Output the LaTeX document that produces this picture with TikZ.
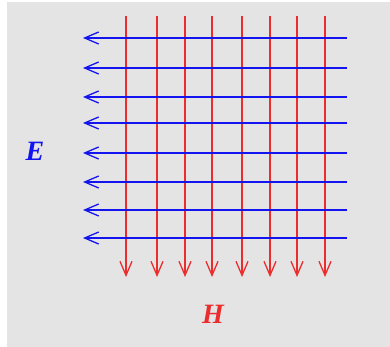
\documentclass[tikz,border=0pt]{standalone}
\usepackage{fontspec}
\setmainfont{Liberation Serif}
\usetikzlibrary{arrows.meta}
\definecolor{bg}{RGB}{228,228,228}
\definecolor{eblue}{RGB}{20,20,240}
\definecolor{hred}{RGB}{235,45,45}
\tikzset{
  efield/.style={draw=eblue, line width=1.6pt, -{Straight Barb[length=14pt, width=12pt, line width=1.3pt]}},
  hfield/.style={draw=hred, line width=1.6pt, -{Straight Barb[length=14pt, width=12pt, line width=1.3pt]}},
  lbl/.style={font=\fontsize{28}{28}\selectfont\bfseries\itshape, inner sep=0pt}
}
\begin{document}
\begin{tikzpicture}[x=1pt,y=-1pt]
\useasboundingbox (0,0) rectangle (390,347);
\fill[white] (0,0) rectangle (390,347);
\fill[bg] (7,2) rectangle (390,347);
% H field (red, vertical)
\foreach \i/\x in {1/126,2/157,3/185,4/212,5/242,6/270,7/297,8/325} {
  \coordinate (ht\i) at (\x,16);
  \coordinate (hb\i) at (\x,277);
  \draw[hfield] (ht\i) -- (hb\i);
}
% E field (blue, horizontal)
\foreach \i/\y in {1/38,2/68,3/97,4/123,5/153,6/182,7/210,8/238} {
  \coordinate (er\i) at (347,\y);
  \coordinate (el\i) at (83,\y);
  \draw[efield] (er\i) -- (el\i);
}
\node[lbl, text=eblue] (E) at (35,151) {E};
\node[lbl, text=hred] (H) at (213,314) {H};
\end{tikzpicture}
\end{document}
